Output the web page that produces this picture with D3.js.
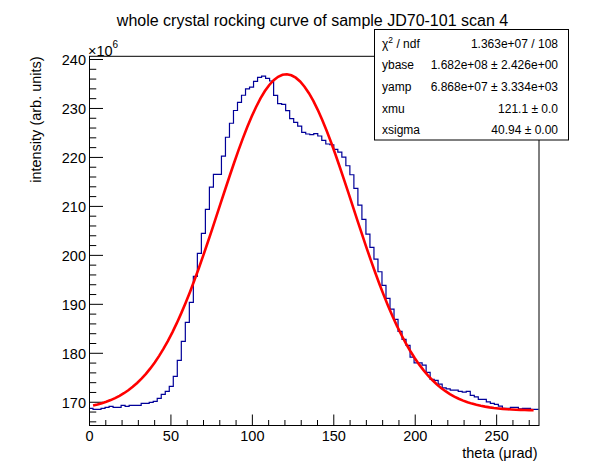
<!DOCTYPE html>
<html>
<head>
<meta charset="utf-8">
<script src="https://cdn.jsdelivr.net/npm/d3@7"></script>
<style>
body { margin: 0; background: #fff; }
text { font-family: "Liberation Sans", Arial, Helvetica, sans-serif; }
</style>
</head>
<body>
<svg id="chart" width="598" height="474"></svg>
<script>

var title_text = "whole crystal rocking curve of sample JD70-101 scan 4"
var x_title = "theta (\u03bcrad)"
var y_title = "intensity (arb. units)"

var x_range = [0, 276]
var y_range = [165.05, 240.55]
var x_major = [0, 50, 100, 150, 200, 250]
var y_major = [170, 180, 190, 200, 210, 220, 230, 240]

// histogram contents, one per bin, in units of 10^6
var counts = [
    168.64, 168.44, 168.44, 168.64, 168.85, 169.05, 168.85, 168.85, 169.26, 169.05,
    169.26, 169.26, 169.26, 169.66, 169.66, 169.87, 170.07, 170.69, 171.50, 172.11,
    173.14, 175.18, 178.45, 182.33, 186.21, 190.30, 195.61, 200.31, 204.39, 209.30,
    213.85, 216.45, 216.45, 220.18, 224.02, 226.88, 229.48, 231.15, 232.60, 233.91,
    234.24, 235.44, 236.26, 236.49, 236.06, 235.51, 232.58, 230.87, 230.75, 229.44,
    227.84, 227.07, 226.31, 225.03, 224.68, 224.54, 224.74, 224.27, 223.39, 222.64,
    222.49, 221.55, 221.00, 219.98, 218.20, 216.36, 213.59, 210.17, 207.25, 204.25,
    201.53, 199.14, 196.55, 193.77, 191.11, 188.93, 186.82, 184.37, 182.74, 181.51,
    179.12, 177.96, 177.96, 177.49, 176.00, 174.57, 174.36, 173.61, 172.85, 172.65,
    172.38, 172.38, 172.11, 171.97, 172.11, 171.30, 171.01, 170.48, 170.48, 169.99,
    169.66, 169.46, 169.11, 168.64, 168.64, 168.85, 168.85, 168.56, 168.64, 168.64,
    168.44, 168.44
]

// fitted gaussian on a flat base (ybase, yamp in 10^6)
var fit_range = [2.5, 273]
var fit_names = ["ybase", "yamp", "xmu", "xsigma"]
var fit_values = [168.2, 68.68, 121.1, 40.94]

var stat_labels = ["\u03c7", "ybase", "yamp", "xmu", "xsigma"]
var stat_values = ["1.363e+07 / 108", "1.682e+08 \u00b1 2.426e+00", "6.868e+07 \u00b1 3.334e+03", "121.1 \u00b1 0.0", "40.94 \u00b1 0.00"]

var svg = d3.select("#chart")
var fnt = "Liberation Sans, Arial, Helvetica, sans-serif"

var frame = {left: 89, right: 538.5, top: 56.3, bottom: 426}

var x = d3.scaleLinear().domain(x_range).range([frame.left, frame.right])
var y = d3.scaleLinear().domain(y_range).range([frame.bottom, frame.top])

svg.append("rect").attr("width", 598).attr("height", 474).attr("fill", "#fff")

// title
svg.append("text")
    .attr("x", 312.5).attr("y", 25.5)
    .attr("text-anchor", "middle")
    .attr("font-size", 16)
    .text(title_text)

// y axis, ticks pointing into the frame
var y_minor = d3.range(166, 241, 2).filter(function(d) { return d % 10 != 0 })

svg.append("g")
    .attr("transform", "translate(" + (frame.left + 0.5) + ",0)")
    .call(d3.axisLeft(y).tickValues(y_minor).tickSize(-6.75).tickSizeOuter(0).tickFormat(""))
    .call(function(g) { g.select(".domain").remove() })

var gy = svg.append("g")
    .attr("transform", "translate(" + (frame.left + 0.5) + ",0)")
    .call(d3.axisLeft(y).tickValues(y_major).tickSize(-13.5).tickSizeOuter(0).tickPadding(3.5))
    .call(function(g) { g.select(".domain").remove() })

gy.attr("font-family", fnt).attr("font-size", 14.5)
gy.selectAll("text").attr("dy", "0.4em").attr("fill", "#000")

// x axis
var x_minor = d3.range(10, 276, 10).filter(function(d) { return d % 50 != 0 })

svg.append("g")
    .attr("transform", "translate(0," + (frame.bottom - 0.5) + ")")
    .call(d3.axisBottom(x).tickValues(x_minor).tickSize(-5.5).tickSizeOuter(0).tickFormat(""))
    .call(function(g) { g.select(".domain").remove() })

var gx = svg.append("g")
    .attr("transform", "translate(0," + (frame.bottom - 0.5) + ")")
    .call(d3.axisBottom(x).tickValues(x_major).tickSize(-11).tickSizeOuter(0).tickPadding(5))
    .call(function(g) { g.select(".domain").remove() })

gx.attr("font-family", fnt).attr("font-size", 14.5)
gx.selectAll("text").attr("fill", "#000")

// histogram as a step line
var bin_w = (x_range[1] - x_range[0]) / counts.length
var steps = counts.map(function(c, i) { return [x_range[0] + i * bin_w, c] })
steps.push([x_range[1], counts[counts.length - 1]])

var step_line = d3.line()
    .x(function(d) { return x(d[0]) })
    .y(function(d) { return y(d[1]) })
    .curve(d3.curveStepAfter)

svg.append("path")
    .datum(steps)
    .attr("d", step_line)
    .attr("fill", "none")
    .attr("stroke", "#000099")
    .attr("stroke-width", 1.2)

// fit function drawn from its parameters
function gaus_base(xv) {
    var z = (xv - fit_values[2]) / fit_values[3]
    return fit_values[0] + fit_values[1] * Math.exp(-0.5 * z * z)
}

var fit_x = d3.range(0, 101).map(function(k) {
    return fit_range[0] + k * (fit_range[1] - fit_range[0]) / 100
})

svg.append("path")
    .datum(fit_x)
    .attr("d", d3.line().x(function(d) { return x(d) }).y(function(d) { return y(gaus_base(d)) }))
    .attr("fill", "none")
    .attr("stroke", "#ff0000")
    .attr("stroke-width", 2.6)

// frame
svg.append("rect")
    .attr("x", frame.left + 0.5).attr("y", frame.top)
    .attr("width", frame.right - frame.left).attr("height", frame.bottom - frame.top - 0.5)
    .attr("fill", "none").attr("stroke", "#000").attr("stroke-width", 1)

// exponent label
svg.append("text").attr("x", 88).attr("y", 55.5).attr("font-size", 14.5).text("\u00d710")
svg.append("text").attr("x", 112.5).attr("y", 48).attr("font-size", 10).text("6")

// axis titles
svg.append("text")
    .attr("transform", "translate(40.5," + frame.top + ") rotate(-90)")
    .attr("text-anchor", "end")
    .attr("font-size", 14.5)
    .text(y_title)

svg.append("text")
    .attr("x", 537.5).attr("y", 458)
    .attr("text-anchor", "end")
    .attr("font-size", 14.5)
    .text(x_title)

// stats box
var box = {x: 374.5, y: 29.5, w: 194, h: 110.5}
svg.append("rect")
    .attr("x", box.x).attr("y", box.y).attr("width", box.w).attr("height", box.h)
    .attr("fill", "#fff").attr("stroke", "#000").attr("stroke-width", 1)

var row_h = 21.7
stat_labels.forEach(function(lab, i) {
    var by = 47.6 + i * row_h
    var t = svg.append("text").attr("x", 382).attr("y", by).attr("font-size", 12)
    if (i == 0) {
        t.text(lab)
        t.append("tspan").attr("dy", -5).attr("font-size", 8.5).text("2")
        t.append("tspan").attr("dy", 5).text(" / ndf")
    } else {
        t.text(lab)
    }
    svg.append("text")
        .attr("x", 558).attr("y", by)
        .attr("text-anchor", "end")
        .attr("font-size", 12)
        .text(stat_values[i])
})

</script>
</body>
</html>
